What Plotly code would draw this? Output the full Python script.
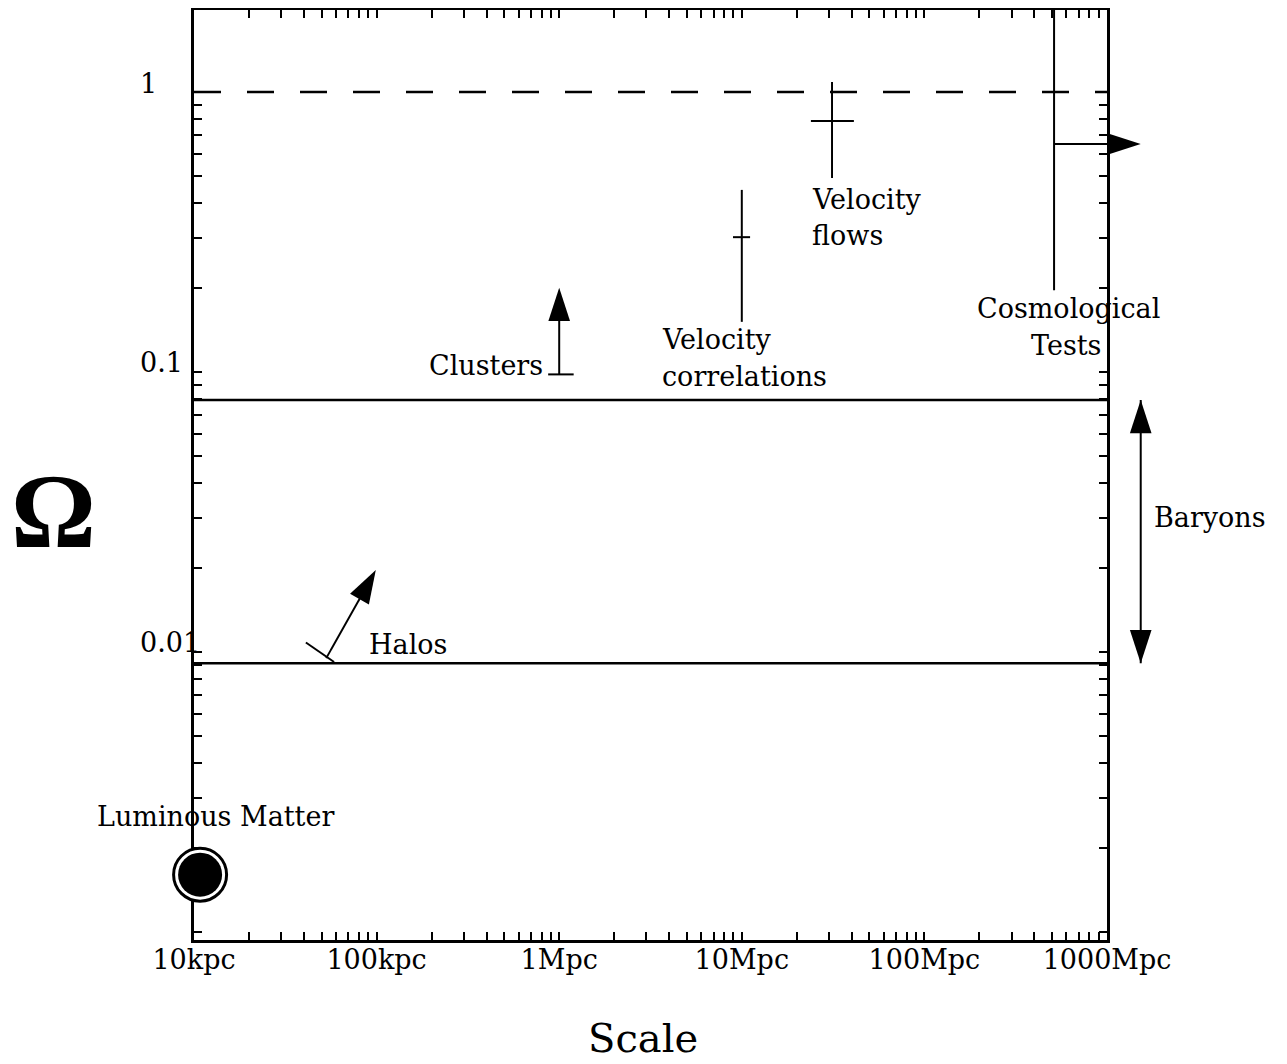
import numpy as np
import plotly.graph_objects as go

# ---------------- tick labels ----------------
x_tick_vals = [10, 100, 1e3, 1e4, 1e5, 1e6]          # scale in kpc
x_tick_text = ["10kpc", "100kpc", "1Mpc", "10Mpc", "100Mpc", "1000Mpc"]
y_tick_vals = [1, 0.1, 0.01]
y_tick_text = ["1", "0.1", "0.01"]

# ---------------- data (scale in kpc, Omega) ----------------
omega_closure = 1.0
baryon_bounds = [0.0794, 0.0091]

luminous_scale = 10.8
luminous_omega = 0.0016

halo_arrow_scale = [53, 99]
halo_arrow_omega = [0.0095, 0.0196]
halo_base_scale = [41, 58.5]
halo_base_omega = [0.0108, 0.0092]

cluster_scale = 1000
cluster_arrow_omega = [0.098, 0.2]
cluster_base_scale = [870, 1200]

velcorr_scale = 1.0e4
velcorr_range = [0.151, 0.447]
velcorr_central = 0.303
velcorr_scale_range = [8950, 11100]

velflow_scale = 3.12e4
velflow_range = [0.493, 1.086]
velflow_central = 0.787
velflow_scale_range = [2.39e4, 4.11e4]

cosmo_scale = 5.13e5
cosmo_range = [0.196, 2.0]
cosmo_arrow_omega = 0.652
cosmo_arrow_end_scale = 1.53e6

baryon_arrow_scale = 1.53e6

# ---------------- styling / layout geometry ----------------
W, H = 1271, 1056                  # page adds an 8px body margin
PLOT_L, PLOT_R = 186, 1099         # frame edges inside the figure (px)
MT, MB = 2, 124
X_RANGE = [1, 6]
PX_PER_DEC = (PLOT_R - PLOT_L) / (X_RANGE[1] - X_RANGE[0])
X2_RANGE = [X_RANGE[0] - PLOT_L / PX_PER_DEC, X_RANGE[1] + (W - PLOT_R) / PX_PER_DEC]
Y_RANGE = [np.log10(0.000935), np.log10(1.963)]
PLOT_H = H - MT - MB
FONT = "DejaVu Serif"
FS = 27
BLACK = "#000000"
ARROW = 35

fig = go.Figure()


def seg(x, y, width=2.0, dash=None, xaxis="x"):
    fig.add_trace(go.Scatter(x=x, y=y, mode="lines", xaxis=xaxis,
                             line=dict(color=BLACK, width=width, dash=dash),
                             hoverinfo="skip", showlegend=False))


def arrow(x, y, width=2.0, xaxis="x"):
    fig.add_trace(go.Scatter(x=x, y=y, mode="lines+markers", xaxis=xaxis,
                             line=dict(color=BLACK, width=width),
                             marker=dict(symbol="arrow", size=[0, ARROW], color=BLACK,
                                         opacity=1, angleref="previous",
                                         line=dict(width=0)),
                             cliponaxis=False, hoverinfo="skip", showlegend=False))


# closure density (dashed) and baryon bounds
seg([x_tick_vals[0], x_tick_vals[-1]], [omega_closure, omega_closure], width=2.5,
    dash="27px,26px")
for b in baryon_bounds:
    seg([x_tick_vals[0], x_tick_vals[-1]], [b, b], width=2.5)

# velocity correlations
seg([velcorr_scale, velcorr_scale], velcorr_range)
seg(velcorr_scale_range, [velcorr_central, velcorr_central])

# velocity flows
seg([velflow_scale, velflow_scale], velflow_range)
seg(velflow_scale_range, [velflow_central, velflow_central])

# clusters (lower limit)
seg(cluster_base_scale, [cluster_arrow_omega[0]] * 2)
arrow([cluster_scale, cluster_scale], cluster_arrow_omega)

# halos (lower limit)
seg(halo_base_scale, halo_base_omega)
arrow(halo_arrow_scale, halo_arrow_omega)

# cosmological tests (arrow reaches past the frame -> full-width overlay axis)
seg([cosmo_scale, cosmo_scale], cosmo_range)
arrow([cosmo_scale, cosmo_arrow_end_scale], [cosmo_arrow_omega] * 2, xaxis="x2")

# baryon range double arrow (outside the frame)
fig.add_trace(go.Scatter(x=[baryon_arrow_scale] * 2, y=baryon_bounds, mode="lines+markers",
                         xaxis="x2", line=dict(color=BLACK, width=2),
                         marker=dict(symbol="arrow", size=ARROW, color=BLACK, opacity=1,
                                     angle=[0, 180], line=dict(width=0)),
                         cliponaxis=False, hoverinfo="skip", showlegend=False))

# luminous matter symbol
fig.add_trace(go.Scatter(x=[luminous_scale], y=[luminous_omega], mode="markers",
                         marker=dict(symbol="circle", size=53, color="white", opacity=1,
                                     line=dict(color=BLACK, width=3)),
                         cliponaxis=False, hoverinfo="skip", showlegend=False))
fig.add_trace(go.Scatter(x=[luminous_scale], y=[luminous_omega], mode="markers",
                         marker=dict(symbol="circle", size=44, color=BLACK, opacity=1,
                                     line=dict(width=0)),
                         cliponaxis=False, hoverinfo="skip", showlegend=False))

lx = np.log10
ann = []


def label(text, x, y, xanchor="left", xshift=0, yshift=0, xref="x", size=FS):
    ann.append(dict(text=text, x=x, y=y, xref=xref, yref="y", xanchor=xanchor,
                    yanchor="middle", xshift=xshift, yshift=yshift, showarrow=False,
                    font=dict(family=FONT, size=size, color=BLACK)))


label("Clusters", lx(cluster_base_scale[0]), lx(cluster_arrow_omega[0]), "right", -3, 9)
label("Halos", lx(halo_arrow_scale[0]), lx(halo_arrow_omega[0]), "left", 41, 14)
label("Velocity", lx(velcorr_scale), lx(velcorr_range[0]), "left", -82, -18)
label("correlations", lx(velcorr_scale), lx(velcorr_range[0]), "left", -82, -55)
label("Velocity", lx(velflow_scale), lx(velflow_range[0]), "left", -22, -22)
label("flows", lx(velflow_scale), lx(velflow_range[0]), "left", -22, -58)
label("Cosmological", lx(cosmo_scale), lx(cosmo_range[0]), "center", 14, -18)
label("Tests", lx(cosmo_scale), lx(cosmo_range[0]), "right", 49, -55)
label("Luminous Matter", lx(luminous_scale), lx(luminous_omega), "center", 15, 58)
label("Baryons", lx(baryon_arrow_scale),
      (lx(baryon_bounds[0]) + lx(baryon_bounds[1])) / 2, "left", 11, 14, xref="x2")

# y tick labels
for v, t in zip(y_tick_vals, y_tick_text):
    ann.append(dict(text=t, x=130 / W, y=lx(v), xref="paper", yref="y", xanchor="left",
                    yanchor="middle", yshift=9, showarrow=False,
                    font=dict(family=FONT, size=FS, color=BLACK)))

# axis titles (paper coordinates; paper spans the full figure width here)
ann.append(dict(text="Ω", x=2 / W, y=(PLOT_H - (511 - 10)) / PLOT_H, xref="paper",
                yref="paper", xanchor="left", yanchor="middle", showarrow=False,
                borderpad=0,
                font=dict(family="Liberation Serif", size=106, color=BLACK, weight="bold")))
ann.append(dict(text="Scale", x=635 / W, y=-(1038 - 940) / PLOT_H, xref="paper",
                yref="paper", xanchor="center", yanchor="middle", showarrow=False,
                font=dict(family=FONT, size=40, color=BLACK)))

# ticks: all log minor positions
x_all = [k * 10.0 ** d for d in range(1, 6) for k in range(1, 10)] + [1e6]
x_txt = []
for v in x_all:
    match = [t for tv, t in zip(x_tick_vals, x_tick_text)
             if abs(np.log10(v) - np.log10(tv)) < 1e-9]
    x_txt.append(match[0] if match else "")
y_all = [k * 10.0 ** d for d in range(-4, 1) for k in range(1, 10)]
y_all = [v for v in y_all if Y_RANGE[0] <= np.log10(v) <= Y_RANGE[1]]

axis_common = dict(showgrid=False, zeroline=False, showline=True, linecolor=BLACK,
                   linewidth=3, mirror="ticks", ticks="inside", ticklen=8, tickwidth=2,
                   tickcolor=BLACK, layer="below traces", automargin=False)

fig.update_layout(
    width=W, height=H, autosize=False,
    margin=dict(l=0, r=0, t=MT, b=MB, pad=0, autoexpand=False),
    paper_bgcolor="white", plot_bgcolor="rgba(0,0,0,0)",
    showlegend=False,
    xaxis=dict(type="log", range=X_RANGE, domain=[PLOT_L / W, PLOT_R / W], anchor="y",
               tickmode="array", tickvals=x_all, ticktext=x_txt, ticklabelstandoff=-6,
               tickfont=dict(family=FONT, size=FS, color=BLACK), **axis_common),
    xaxis2=dict(type="log", range=X2_RANGE, domain=[0, 1], anchor="y", visible=False,
                showgrid=False, zeroline=False, automargin=False),
    yaxis=dict(type="log", range=Y_RANGE, domain=[0, 1], anchor="x", tickmode="array",
               tickvals=y_all, showticklabels=False, **axis_common),
    annotations=ann,
)

fig.write_html("out.html")
